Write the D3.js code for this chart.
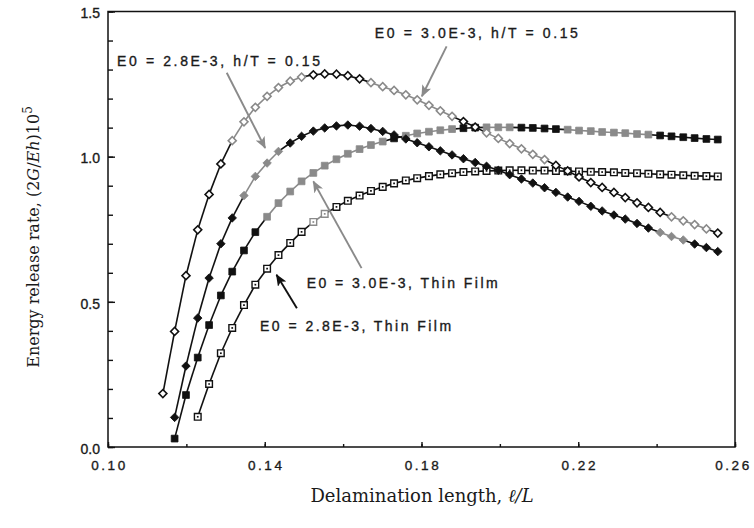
<!DOCTYPE html>
<html><head><meta charset="utf-8">
<script src="https://cdn.jsdelivr.net/npm/d3@7"></script>
<style>body{margin:0;background:#fff}svg{display:block}</style>
</head><body><svg id="c" width="754" height="528"></svg>
<script>
// ---------- data ----------
const xGrid = [0.1140,0.1170,0.1199,0.1229,0.1258,0.1288,0.1317,0.1347,0.1376,0.1406,
  0.1435,0.1465,0.1494,0.1524,0.1553,0.1583,0.1612,0.1642,0.1671,0.1701,
  0.1730,0.1760,0.1789,0.1819,0.1848,0.1878,0.1907,0.1937,0.1966,0.1996,
  0.2025,0.2055,0.2084,0.2114,0.2143,0.2173,0.2202,0.2232,0.2261,0.2291,
  0.2320,0.2350,0.2379,0.2409,0.2438,0.2468,0.2497,0.2527,0.2556];

// E0 = 3.0E-3, h/T = 0.15  (open diamonds), starts at xGrid[0]
const e30hT = [0.184,0.398,0.590,0.748,0.870,0.975,1.055,1.120,1.170,1.208,
  1.238,1.260,1.274,1.282,1.285,1.284,1.279,1.268,1.255,1.241,
  1.228,1.213,1.196,1.177,1.158,1.139,1.121,1.102,1.082,1.063,
  1.045,1.027,1.008,0.990,0.970,0.951,0.930,0.911,0.894,0.877,
  0.859,0.841,0.825,0.808,0.793,0.779,0.766,0.751,0.737];

// E0 = 2.8E-3, h/T = 0.15  (filled diamonds), starts at xGrid[1]
const e28hT = [0.102,0.279,0.444,0.582,0.700,0.789,0.866,0.932,0.978,
  1.018,1.047,1.070,1.088,1.099,1.106,1.109,1.105,1.097,1.087,
  1.075,1.061,1.048,1.034,1.020,1.006,0.993,0.980,0.967,0.953,
  0.938,0.923,0.909,0.893,0.877,0.861,0.846,0.829,0.813,0.799,
  0.785,0.770,0.754,0.739,0.725,0.713,0.699,0.687,0.673];

// E0 = 3.0E-3, Thin Film  (filled squares), starts at xGrid[1]
const e30tf = [0.029,0.179,0.308,0.420,0.522,0.604,0.677,0.740,0.793,
  0.840,0.880,0.915,0.944,0.969,0.991,1.010,1.026,1.040,1.052,
  1.063,1.072,1.080,1.086,1.091,1.095,1.098,1.100,1.101,1.101,
  1.101,1.100,1.099,1.097,1.095,1.093,1.090,1.088,1.085,1.083,
  1.081,1.078,1.076,1.073,1.070,1.067,1.064,1.061,1.059];

// E0 = 2.8E-3, Thin Film  (open squares), starts at xGrid[3]
const e28tf = [0.104,0.217,0.323,0.410,0.489,0.559,0.614,
  0.661,0.703,0.741,0.775,0.803,0.827,0.848,0.866,0.882,0.896,
  0.908,0.918,0.926,0.933,0.939,0.943,0.947,0.949,0.951,0.952,
  0.953,0.953,0.952,0.952,0.951,0.950,0.949,0.948,0.947,0.946,
  0.944,0.943,0.941,0.939,0.938,0.936,0.934,0.933,0.932];

const xTicks = [0.10,0.12,0.14,0.16,0.18,0.20,0.22,0.24,0.26];
const xTickLabels = ["0.10","0.14","0.18","0.22","0.26"];
const yTicks = [0.0,0.1,0.2,0.3,0.4,0.5,0.6,0.7,0.8,0.9,1.0,1.1,1.2,1.3,1.4,1.5];
const yTickLabels = ["0.0","0.5","1.0","1.5"];

const labels = ["E0 = 2.8E-3, h/T = 0.15","E0 = 3.0E-3, h/T = 0.15",
                "E0 = 3.0E-3, Thin Film","E0 = 2.8E-3, Thin Film"];
// annotation anchor points in data units: text start, arrow tail, arrow head
const labelAt  = [[0.1023,1.311],[0.1681,1.409],[0.1507,0.547],[0.1388,0.398]];
const arrowFrom = [[0.1303,1.289],[0.1864,1.380],[0.1647,0.616],[0.1482,0.478]];
const arrowTo   = [[0.1401,1.030],[0.1801,1.208],[0.1524,0.915],[0.1430,0.593]];

// ---------- styling ----------
const svg = d3.select("#c");
const x = d3.scaleLinear([0.10,0.26],[108,735]);
const y = d3.scaleLinear([0,1.5],[447,11.5]);
const GRAY = "#8a8a8a", INK = "#111";
const sans = "Liberation Sans, Arial, sans-serif";
const serif = "DejaVu Serif, serif";

const series = [
  {vals:e28tf, start:3, mark:"osq", gray:[[13,14]]},
  {vals:e30tf, start:1, mark:"fsq", gray:[[9,19],[21,25],[28,30],[35,42]]},
  {vals:e30hT, start:0, mark:"odi", gray:[[6,12],[18,25],[28,33],[44,47]]},
  {vals:e28hT, start:1, mark:"fdi", gray:[[7,10],[43,45]]}
];
const isGray = (s,i)=> s.gray.some(([a,b])=> i>=a && i<=b);

// frame
svg.append("rect").attr("x",x(0.10)).attr("y",y(1.5))
  .attr("width",x(0.26)-x(0.10)).attr("height",y(0)-y(1.5))
  .attr("fill","none").attr("stroke",INK).attr("stroke-width",1.5);

// x axis
const gx = svg.append("g").attr("transform",`translate(0,${y(0)})`);
gx.call(d3.axisBottom(x).tickValues(xTicks).tickSize(-3).tickFormat(""));
const gx2 = svg.append("g").attr("transform",`translate(0,${y(0)})`);
gx2.call(d3.axisBottom(x).tickValues(xTickLabels.map(Number)).tickSize(-5).tickPadding(13).tickFormat(d3.format(".2f")));
[gx,gx2].forEach(g=>{g.select(".domain").remove(); g.selectAll("line").attr("stroke",INK).attr("stroke-width",1.4);});
gx2.selectAll("text").attr("font-family",sans).attr("font-size",13.5).attr("fill","#1a1a1a")
  .attr("stroke","#1a1a1a").attr("stroke-width",0.35)
  .style("letter-spacing","2.5px").attr("dx",d=> d>=0.26 ? "-2" : "1");

// y axis
const gy = svg.append("g").attr("transform",`translate(${x(0.10)},0)`);
gy.call(d3.axisLeft(y).tickValues(yTicks).tickSize(-5).tickFormat(""));
const gy2 = svg.append("g").attr("transform",`translate(${x(0.10)},0)`);
gy2.call(d3.axisLeft(y).tickValues(yTickLabels.map(Number)).tickSize(-7).tickPadding(8).tickFormat(d3.format(".1f")));
[gy,gy2].forEach(g=>{g.select(".domain").remove(); g.selectAll("line").attr("stroke",INK).attr("stroke-width",1.4);});
gy2.selectAll("text").attr("font-family",sans).attr("font-size",14).attr("fill","#1a1a1a")
  .attr("stroke","#1a1a1a").attr("stroke-width",0.35).attr("dy","0.45em");

// lines
const plot = svg.append("g");
series.forEach(s=>{
  const pts = s.vals.map((v,k)=>({i:s.start+k, x:xGrid[s.start+k], y:v}));
  s.pts = pts;
  plot.append("g").selectAll("line").data(d3.pairs(pts)).join("line")
    .attr("x1",d=>x(d[0].x)).attr("y1",d=>y(d[0].y))
    .attr("x2",d=>x(d[1].x)).attr("y2",d=>y(d[1].y))
    .attr("stroke",d=> (isGray(s,d[0].i)&&isGray(s,d[1].i))?GRAY:INK)
    .attr("stroke-width",1.6);
});
// markers
const sq = d3.symbol(d3.symbolSquare);
series.forEach(s=>{
  const g = plot.append("g");
  const col = d=> isGray(s,d.i)?GRAY:INK;
  const sel = g.selectAll("g").data(s.pts).join("g")
    .attr("transform",d=>`translate(${x(d.x)},${y(d.y)})`);
  if (s.mark==="odi"){
    sel.append("path").attr("d",sq.size(32)()).attr("transform","rotate(45)")
      .attr("fill","#fff").attr("stroke",col).attr("stroke-width",1.6);
  } else if (s.mark==="fdi"){
    sel.append("path").attr("d",sq.size(36)()).attr("transform","rotate(45)")
      .attr("fill",col).attr("stroke",col).attr("stroke-width",0.8);
  } else if (s.mark==="fsq"){
    sel.append("path").attr("d",sq.size(46)()).attr("fill",col).attr("stroke",col).attr("stroke-width",0.8);
  } else {
    sel.append("path").attr("d",sq.size(44)()).attr("fill","#fff").attr("stroke",col).attr("stroke-width",1.4);
    sel.append("path").attr("d",sq.size(3)()).attr("fill",col);
  }
});

// arrows
const defs = svg.append("defs");
[["ahG",GRAY],["ahK",INK]].forEach(([id,c])=>{
  defs.append("marker").attr("id",id).attr("viewBox","0 0 12 10").attr("refX",11).attr("refY",5)
    .attr("markerWidth",12).attr("markerHeight",10).attr("markerUnits","userSpaceOnUse")
    .attr("orient","auto").append("path").attr("d","M0,0L12,5L0,10L3,5Z").attr("fill",c);
});
arrowFrom.forEach((f,k)=>{
  const t = arrowTo[k], c = k===3?INK:GRAY;
  svg.append("line").attr("x1",x(f[0])).attr("y1",y(f[1])).attr("x2",x(t[0])).attr("y2",y(t[1]))
    .attr("stroke",c).attr("stroke-width",1.9).attr("marker-end",`url(#${k===3?"ahK":"ahG"})`);
});

// labels
const labW = [203,203,191,191];
labels.forEach((t,k)=>{
  svg.append("text").attr("x",x(labelAt[k][0])).attr("y",y(labelAt[k][1]))
    .attr("font-family",sans).attr("font-size",14)
    .attr("fill","#1a1a1a").attr("stroke","#1a1a1a").attr("stroke-width",0.35)
    .attr("textLength",labW[k]).attr("lengthAdjust","spacing")
    .style("white-space","pre").text(t);
});

// axis titles
const xt = svg.append("text").attr("x",422).attr("y",502)
  .attr("text-anchor","middle").attr("font-family",serif).attr("font-size",18).attr("fill","#1a1a1a");
xt.append("tspan").text("Delamination length, ");
xt.append("tspan").attr("font-style","italic").text("ℓ/L");

const yt = svg.append("text").attr("transform",`translate(39,237) rotate(-90)`)
  .attr("text-anchor","middle").attr("font-family",serif).attr("font-size",16).attr("fill","#1a1a1a");
yt.append("tspan").text("Energy release rate, (2");
yt.append("tspan").attr("font-style","italic").text("G");
yt.append("tspan").text("/");
yt.append("tspan").attr("font-style","italic").text("Eh");
yt.append("tspan").text(")10");
yt.append("tspan").attr("font-size",12).attr("dy",-7).text("5");
</script></body></html>
